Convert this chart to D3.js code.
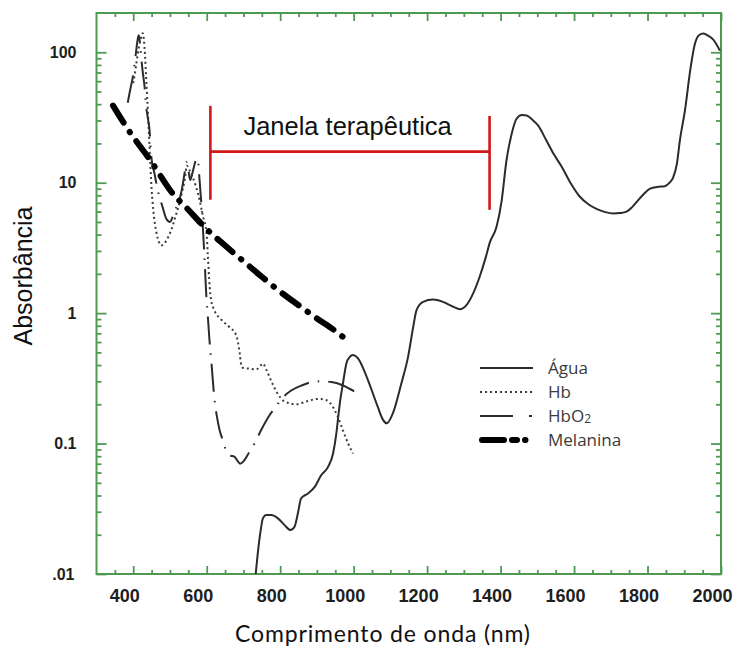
<!DOCTYPE html>
<html>
<head>
<meta charset="utf-8">
<script src="https://cdn.jsdelivr.net/npm/d3@7"></script>
<style>
  html, body { margin: 0; padding: 0; background: #ffffff; }
  svg { display: block; }
</style>
</head>
<body>
<svg id="chart" width="735" height="646"></svg>
<script>
// ---- Data: absorption spectra (wavelength in nm, absorbance, log scale) ----
const aguaNm  = [733, 739, 747, 753, 762, 776, 794, 812, 828, 839, 848, 857, 876, 894, 912, 930, 944, 953, 958, 963, 971, 980, 989, 998, 1012, 1030, 1048, 1066, 1080, 1090, 1107, 1130, 1148, 1162, 1171, 1189, 1216, 1243, 1271, 1289, 1307, 1325, 1343, 1360, 1371, 1389, 1403, 1416, 1430, 1443, 1458, 1471, 1486, 1502, 1525, 1545, 1566, 1590, 1616, 1640, 1661, 1685, 1707, 1725, 1743, 1758, 1770, 1790, 1807, 1830, 1847, 1860, 1870, 1880, 1888, 1902, 1916, 1929, 1940, 1952, 1965, 1979, 1997];
const aguaAbs = [0.0098, 0.0144, 0.0217, 0.0267, 0.0283, 0.0283, 0.0267, 0.0237, 0.0217, 0.023, 0.029, 0.038, 0.0415, 0.0466, 0.0574, 0.066, 0.0839, 0.12, 0.16, 0.21, 0.29, 0.41, 0.46, 0.477, 0.45, 0.355, 0.262, 0.19, 0.152, 0.143, 0.171, 0.29, 0.46, 0.78, 1.05, 1.22, 1.27, 1.22, 1.12, 1.07, 1.15, 1.41, 1.9, 2.7, 3.5, 4.6, 7.3, 14.8, 23.6, 30.8, 33, 32.7, 30.5, 27.5, 21, 16.5, 13.3, 10, 7.8, 6.8, 6.3, 5.95, 5.8, 5.85, 6.0, 6.5, 7.1, 8.2, 9.0, 9.3, 9.4, 10.0, 11.0, 14, 21, 36, 72, 116, 135, 139, 134, 125, 103];

const hbNm  = [400, 405, 410, 415, 420, 426, 429, 432, 435, 438, 441, 444, 447, 450, 455, 462, 470, 476, 490, 503, 515, 526, 535, 540, 546, 553, 562, 570, 580, 590, 599, 603, 608, 612, 621, 640, 662, 680, 685, 690, 694, 699, 717, 735, 748, 753, 762, 776, 790, 812, 844, 871, 903, 926, 944, 957, 971, 985, 998];
const hbAbs = [58, 70, 88, 108, 125, 140, 125, 95, 65, 45, 30, 20, 13, 9, 6, 4.3, 3.5, 3.3, 3.6, 4.3, 5.5, 7.0, 9.0, 10.4, 13.5, 12.5, 11, 9.5, 7.5, 5.5, 4.3, 2.8, 1.6, 1.26, 1.05, 0.89, 0.78, 0.68, 0.6, 0.49, 0.40, 0.38, 0.375, 0.37, 0.40, 0.41, 0.37, 0.30, 0.25, 0.21, 0.20, 0.21, 0.22, 0.215, 0.19, 0.16, 0.126, 0.10, 0.084];

const hbo2Nm  = [385, 392, 399, 406, 412, 415, 418, 422, 426, 431, 435, 440, 444, 449, 458, 467, 480, 490, 500, 512, 522, 531, 540, 544, 549, 555, 560, 566, 572, 576, 579, 583, 587, 590, 593, 596, 599, 603, 607, 614, 621, 628, 635, 644, 655, 665, 676, 685, 691, 700, 715, 730, 750, 771, 790, 807, 830, 860, 889, 910, 939, 970, 990, 1012];
const hbo2Abs = [41, 52, 65, 92, 125, 135, 120, 89, 70, 54, 39, 31, 26, 16, 11.7, 8.7, 6.5, 5.3, 5.0, 6.0, 7.0, 8.5, 12, 14.4, 13.2, 10.5, 11.5, 13.5, 15.2, 15.3, 12, 8.5, 6, 4.3, 3.0, 2.0, 1.35, 0.95, 0.65, 0.38, 0.22, 0.16, 0.127, 0.106, 0.085, 0.081, 0.079, 0.073, 0.070, 0.073, 0.085, 0.10, 0.13, 0.165, 0.195, 0.225, 0.255, 0.28, 0.297, 0.30, 0.297, 0.28, 0.262, 0.242];

const melaninaNm  = [345, 370, 397, 425, 450, 475, 500, 550, 600, 650, 700, 750, 800, 850, 900, 950, 985];
const melaninaAbs = [39, 30, 23, 18, 14.4, 11.2, 8.8, 6.2, 4.4, 3.3, 2.5, 1.9, 1.46, 1.15, 0.91, 0.73, 0.61];

// Axis ticks
const xDomain = [300, 2000];
const yDomain = [0.01, 200];
const xTickValues = [400, 600, 800, 1000, 1200, 1400, 1600, 1800, 2000];
const yTickValues = [0.01, 0.1, 1, 10, 100];
const yTickLabels = ["0.01", "0.1", "1", "10", "100"];

// Therapeutic window bracket (nm, absorbance)
const janelaNm = [610, 1370];
const janelaLeftBar = [7.4, 38.8];
const janelaRightBar = [6.2, 32.5];
const janelaBarLevel = 17.3;

// Legend entries
const legendNames = ["Água", "Hb", "HbO2", "Melanina"];

// ---- Layout ----
const plot = { left: 96.5, right: 721, top: 13, bottom: 574 };
const axisColor = "#4f9a52";
const inkColor = "#2b2b2b";

const svg = d3.select("#chart");
const defs = svg.append("defs");

const x = d3.scaleLinear().domain(xDomain).range([plot.left, plot.right]);
const y = d3.scaleLog().domain(yDomain).range([plot.bottom, plot.top]);

const xMinor = d3.range(350, 2000, 50).filter(v => v % 200 !== 0);
const yMinor = [];
[-2, -1, 0, 1].forEach(k => { for (let m = 2; m <= 9; m++) yMinor.push(m * Math.pow(10, k)); });

// ---- Frame and inward ticks ----
function styleAxis(g) {
  g.attr("color", axisColor);
  g.select(".domain").remove();
  g.selectAll(".tick line").attr("stroke-width", 1.8);
}

// bottom
svg.append("g").attr("transform", `translate(0,${plot.bottom})`)
  .call(d3.axisBottom(x).tickValues(xMinor).tickSize(-4).tickFormat(""))
  .call(styleAxis);
const xAxisG = svg.append("g").attr("transform", `translate(0,${plot.bottom})`)
  .call(d3.axisBottom(x).tickValues(xTickValues).tickSize(-8).tickPadding(15).tickFormat(d3.format("d")))
  .call(styleAxis);
xAxisG.selectAll("text")
  .attr("fill", "#1e1e1e")
  .attr("dx", -9)
  .style("font-family", "'Liberation Sans', Arial, sans-serif")
  .style("font-weight", "bold")
  .style("font-size", "18px");

// top
svg.append("g").attr("transform", `translate(0,${plot.top})`)
  .call(d3.axisTop(x).tickValues(xMinor).tickSize(-4).tickFormat(""))
  .call(styleAxis);
svg.append("g").attr("transform", `translate(0,${plot.top})`)
  .call(d3.axisTop(x).tickValues(xTickValues).tickSize(-8).tickFormat(""))
  .call(styleAxis);

// left (the lowest label is cut by the left margin)
defs.append("clipPath").attr("id", "ylabelClip")
  .append("rect").attr("x", 52 - plot.left).attr("y", -20).attr("width", 80).attr("height", 40);
svg.append("g").attr("transform", `translate(${plot.left},0)`)
  .call(d3.axisLeft(y).tickValues(yMinor).tickSize(-5).tickFormat(""))
  .call(styleAxis);
const yAxisG = svg.append("g").attr("transform", `translate(${plot.left},0)`)
  .call(d3.axisLeft(y).tickValues(yTickValues).tickSize(-10).tickPadding(20)
    .tickFormat((d, i) => yTickLabels[i]))
  .call(styleAxis);
yAxisG.selectAll("text")
  .attr("fill", "#1e1e1e")
  .style("font-family", "'Liberation Sans', Arial, sans-serif")
  .style("font-weight", "bold")
  .style("font-size", "16px");
yAxisG.selectAll(".tick").filter(d => d === yTickValues[0])
  .select("text").attr("dx", -2).attr("clip-path", "url(#ylabelClip)");

// right
svg.append("g").attr("transform", `translate(${plot.right},0)`)
  .call(d3.axisRight(y).tickValues(yMinor).tickSize(-5).tickFormat(""))
  .call(styleAxis);
svg.append("g").attr("transform", `translate(${plot.right},0)`)
  .call(d3.axisRight(y).tickValues(yTickValues).tickSize(-10).tickFormat(""))
  .call(styleAxis);

// frame
svg.append("rect")
  .attr("x", plot.left).attr("y", plot.top)
  .attr("width", plot.right - plot.left).attr("height", plot.bottom - plot.top)
  .attr("fill", "none").attr("stroke", axisColor).attr("stroke-width", 2);

// ---- Curves ----
defs.append("clipPath").attr("id", "plotClip")
  .append("rect").attr("x", plot.left).attr("y", plot.top)
  .attr("width", plot.right - plot.left).attr("height", plot.bottom - plot.top);

const line = d3.line()
  .x(d => x(d[0]))
  .y(d => y(d[1]))
  .curve(d3.curveMonotoneX);

const zip = (a, b) => a.map((v, i) => [v, b[i]]);

const seriesStyles = [
  { name: legendNames[0], data: zip(aguaNm, aguaAbs), width: 2, dash: null, legendDash: null, cap: "butt", color: inkColor },
  { name: legendNames[1], data: zip(hbNm, hbAbs), width: 2, dash: "2,3", legendDash: "2,3", cap: "butt", color: "#3c3c3c" },
  { name: legendNames[2], data: zip(hbo2Nm, hbo2Abs), width: 2, dash: "28,9,1.5,9", legendDash: "33,16,3,20", cap: "butt", color: inkColor },
  { name: legendNames[3], data: zip(melaninaNm, melaninaAbs), width: 6, dash: "20,11,0.5,11", legendDash: "22,8,5,8,0.5,20", cap: "round", color: "#000000" }
];

const curves = svg.append("g").attr("clip-path", "url(#plotClip)");
seriesStyles.forEach(s => {
  curves.append("path")
    .datum(s.data)
    .attr("d", line)
    .attr("fill", "none")
    .attr("stroke", s.color)
    .attr("stroke-width", s.width)
    .attr("stroke-linecap", s.cap)
    .attr("stroke-linejoin", "round")
    .attr("stroke-dasharray", s.dash);
});

// ---- Therapeutic window bracket ----
const red = "#d01818";
const bracket = svg.append("g").attr("stroke", red).attr("stroke-width", 2.6).attr("fill", "none");
bracket.append("line")
  .attr("x1", x(janelaNm[0])).attr("x2", x(janelaNm[0]))
  .attr("y1", y(janelaLeftBar[0])).attr("y2", y(janelaLeftBar[1]));
bracket.append("line")
  .attr("x1", x(janelaNm[1])).attr("x2", x(janelaNm[1]))
  .attr("y1", y(janelaRightBar[0])).attr("y2", y(janelaRightBar[1]));
bracket.append("line")
  .attr("x1", x(janelaNm[0])).attr("x2", x(janelaNm[1]))
  .attr("y1", y(janelaBarLevel)).attr("y2", y(janelaBarLevel));

svg.append("text")
  .attr("x", x(janelaNm[0]) + 33)
  .attr("y", y(janelaBarLevel) - 16.5)
  .attr("fill", "#111")
  .style("font-family", "'Liberation Sans', Arial, sans-serif")
  .style("font-size", "25.5px")
  .text("Janela terapêutica");

// ---- Legend ----
const legend = svg.append("g").attr("transform", "translate(480,368)");
seriesStyles.forEach((s, i) => {
  const row = legend.append("g").attr("transform", `translate(0,${i * 24})`);
  row.append("line")
    .attr("x1", s.cap === "round" ? 2 : 0).attr("x2", 53)
    .attr("y1", 0).attr("y2", 0)
    .attr("stroke", s.color)
    .attr("stroke-width", s.cap === "round" ? 6 : 1.8)
    .attr("stroke-linecap", s.cap)
    .attr("stroke-dasharray", s.legendDash);
  const t = row.append("text")
    .attr("x", 68).attr("y", 6)
    .attr("fill", "#3a3a3a")
    .style("font-family", "'Open Sans', sans-serif")
    .style("font-size", "17px");
  if (s.name === "HbO2") {
    t.append("tspan").text("HbO");
    t.append("tspan").attr("font-size", "12px").attr("dy", 1).text("2");
  } else {
    t.text(s.name);
  }
});

// ---- Axis titles ----
svg.append("text")
  .attr("transform", "translate(32,276) rotate(-90)")
  .attr("text-anchor", "middle")
  .attr("fill", "#111")
  .style("font-family", "'Liberation Sans', Arial, sans-serif")
  .style("font-size", "25px")
  .text("Absorbância");

svg.append("text")
  .attr("x", 235).attr("y", 641.5)
  .attr("textLength", 295)
  .attr("lengthAdjust", "spacing")
  .attr("fill", "#111")
  .style("font-family", "Lato, 'Open Sans', sans-serif")
  .style("font-size", "23px")
  .text("Comprimento de onda (nm)");
</script>
</body>
</html>
